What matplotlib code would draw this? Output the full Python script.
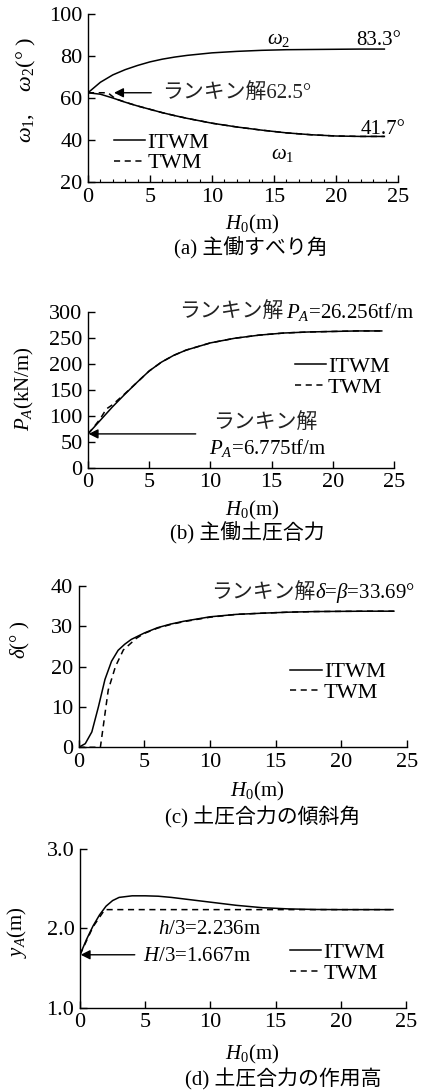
import matplotlib
matplotlib.use("Agg")
import matplotlib.pyplot as plt
from matplotlib.ticker import MultipleLocator, FormatStrFormatter

plt.rcParams['font.family'] = ['Liberation Serif', 'Noto Sans CJK JP']
plt.rcParams['mathtext.fontset'] = 'custom'
plt.rcParams['mathtext.rm'] = 'Liberation Serif'
plt.rcParams['mathtext.it'] = 'Liberation Serif:italic'
plt.rcParams['font.size'] = 15

# --- data ---
# (a) slip angles
h_a = [0, 1, 2, 3, 4, 5, 6, 7, 8, 10, 12, 14, 16, 18, 20, 22, 23.9]
omega2_itwm = [62.5, 67.5, 71.0, 73.5, 75.5, 77.2, 78.5, 79.5, 80.3, 81.5, 82.2, 82.7, 83.0, 83.1, 83.2, 83.3, 83.3]
omega1_itwm = [62.5, 61.8, 60.0, 58.0, 56.2, 54.6, 53.0, 51.6, 50.3, 48.0, 46.2, 44.7, 43.4, 42.5, 41.9, 41.7, 41.7]
h_a_twm = [0, 1.6, 2.2, 3, 4, 5, 6, 7, 8, 10, 12, 14, 16, 18, 20, 22, 23.9]
omega1_twm = [62.5, 62.5, 59.7, 58.0, 56.2, 54.6, 53.0, 51.6, 50.3, 48.0, 46.2, 44.7, 43.4, 42.5, 41.9, 41.7, 41.7]

# (b) active thrust
h_b = [0, 0.5, 1, 1.5, 2, 3, 4, 5, 6, 7, 8, 10, 12, 14, 16, 18, 20, 22, 24]
pa_itwm = [65, 78, 91, 104, 117, 141, 164, 186, 203, 216, 226, 240, 249, 255, 259, 261, 262, 263, 263]
pa_twm = [65, 79, 94, 113, 121, 142, 164, 186, 203, 216, 226, 240, 249, 255, 259, 261, 262, 263, 263]

# (c) inclination of thrust
h_c = [0, 0.5, 1, 1.5, 2, 2.5, 3, 3.5, 4, 5, 6, 7, 8, 10, 12, 14, 16, 18, 20, 22, 24]
delta_itwm = [0, 0.9, 3.8, 10.0, 16.8, 21.3, 24.0, 25.5, 26.7, 28.3, 29.6, 30.5, 31.2, 32.3, 32.9, 33.2, 33.45, 33.6, 33.65, 33.69, 33.69]
h_c_twm = [0, 1.65, 1.9, 2.25, 2.8, 3.4, 4.4, 5, 6, 7, 8, 10, 12, 14, 16, 18, 20, 22, 24]
delta_twm = [0, 0, 5.9, 14.2, 20.0, 24.1, 27.0, 28.2, 29.5, 30.4, 31.1, 32.2, 32.9, 33.2, 33.45, 33.6, 33.65, 33.69, 33.69]

# (d) height of application
h_d = [0, 0.5, 1, 1.5, 2, 2.5, 3, 4, 5, 6, 7, 8, 10, 12, 14, 16, 18, 20, 22, 24]
ya_itwm = [1.667, 1.86, 2.03, 2.17, 2.28, 2.35, 2.39, 2.41, 2.41, 2.405, 2.39, 2.37, 2.33, 2.29, 2.26, 2.245, 2.238, 2.236, 2.236, 2.236]
h_d_twm = [0, 1.0, 1.9, 24]
ya_twm = [1.667, 2.02, 2.236, 2.236]

W, H = 425, 1092
fig = plt.figure(figsize=(W / 100, H / 100), dpi=100)

TICK_FS = 16
TEXT_FS = 15


def px(x, y):
    return x / W, 1 - y / H


def make_axes(left, top, right, bottom):
    ax = fig.add_axes([left / W, 1 - bottom / H, (right - left) / W, (bottom - top) / H])
    for s in ['top', 'right']:
        ax.spines[s].set_visible(False)
    for s in ['left', 'bottom']:
        ax.spines[s].set_linewidth(1.0)
    ax.tick_params(direction='in', length=5, width=1.0, labelsize=TICK_FS, pad=4)
    ax.set_xlim(0, 25)
    ax.xaxis.set_major_locator(MultipleLocator(5))
    return ax


solid = dict(color='black', lw=1.1, ls='-')
dashed = dict(color='black', lw=1.1, ls=(0, (4, 3)))
arrow = dict(arrowstyle='-|>', color='black', lw=1.0, mutation_scale=14, shrinkA=0, shrinkB=0)


def legend(ax, x, y):
    ax.legend(loc='center left', bbox_to_anchor=(x, y), frameon=False, fontsize=16,
              handlelength=1.4, handletextpad=0.1, labelspacing=0.0, borderpad=0, borderaxespad=0)


# ---------- (a) ----------
ax = make_axes(88, 14, 398, 182)
ax.set_ylim(20, 100)
ax.yaxis.set_major_locator(MultipleLocator(20))
ax.xaxis.set_minor_locator(MultipleLocator(1))
ax.tick_params(which='minor', direction='in', length=2, width=0.8)
ax.plot(h_a, omega2_itwm, **solid)
ax.plot(h_a, omega1_itwm, label='ITWM', **solid)
ax.plot(h_a_twm, omega1_twm, label='TWM', **dashed)
ax.annotate('', xy=(2.1, 62.5), xytext=(5.1, 62.5), arrowprops=arrow)
ax.text(6.0, 62.5, 'ランキン解62.5°', ha='left', va='center', fontsize=TEXT_FS, color='#222222')
ax.text(15.4, 88.0, r'$\omega_2$', ha='center', va='center', fontsize=TEXT_FS)
ax.text(21.6, 87.5, '83.3°', ha='left', va='center', fontsize=TEXT_FS)
ax.text(22.0, 45.0, '41.7°', ha='left', va='center', fontsize=TEXT_FS)
ax.text(15.7, 33.0, r'$\omega_1$', ha='center', va='center', fontsize=TEXT_FS)
legend(ax, 0.085, 0.173)
fig.text(*px(26, 90), r'$\omega_1$,    $\omega_2$(° )', rotation=90, ha='center', va='center', fontsize=16)
fig.text(*px(252, 224), r'$H_0$(m)', ha='center', va='center', fontsize=TEXT_FS)
fig.text(*px(251, 248), '(a) 主働すべり角', ha='center', va='center', fontsize=TEXT_FS)

# ---------- (b) ----------
ax = make_axes(88, 311.7, 394, 467.7)
ax.set_ylim(0, 300)
ax.yaxis.set_major_locator(MultipleLocator(50))
ax.plot(h_b, pa_itwm, label='ITWM', **solid)
ax.plot(h_b, pa_twm, label='TWM', **dashed)
ax.annotate('', xy=(0.05, 65), xytext=(8.8, 65), arrowprops=arrow)
ax.text(10.2, 86, 'ランキン解', ha='left', va='center', fontsize=TEXT_FS, color='#222222')
ax.text(9.9, 38, r'$P_A$=6.775tf/m', ha='left', va='center', fontsize=TEXT_FS)
ax.text(15.95, 300, 'ランキン解', ha='right', va='center', fontsize=TEXT_FS, color='#222222')
ax.text(16.2, 300, r'$P_A$=26.256tf/m', ha='left', va='center', fontsize=TEXT_FS)
legend(ax, 0.675, 0.58)
fig.text(*px(24, 389), r'$P_A$(kN/m)', rotation=90, ha='center', va='center', fontsize=TEXT_FS)
fig.text(*px(252, 510), r'$H_0$(m)', ha='center', va='center', fontsize=TEXT_FS)
fig.text(*px(247, 533), '(b) 主働土圧合力', ha='center', va='center', fontsize=TEXT_FS)

# ---------- (c) ----------
ax = make_axes(78.7, 585.7, 407, 747.3)
ax.set_ylim(0, 40)
ax.yaxis.set_major_locator(MultipleLocator(10))
ax.plot(h_c, delta_itwm, label='ITWM', **solid)
ax.plot(h_c_twm, delta_twm, label='TWM', **dashed)
ax.text(18.0, 38.2, 'ランキン解', ha='right', va='center', fontsize=TEXT_FS, color='#222222')
ax.text(18.0, 38.2, r'$\delta$=$\beta$=33.69°', ha='left', va='center', fontsize=TEXT_FS)
legend(ax, 0.645, 0.402)
fig.text(*px(20, 640), r'$\delta$(° )', rotation=90, ha='center', va='center', fontsize=TEXT_FS)
fig.text(*px(257, 791), r'$H_0$(m)', ha='center', va='center', fontsize=TEXT_FS)
fig.text(*px(263, 817), '(c) 土圧合力の傾斜角', ha='center', va='center', fontsize=TEXT_FS)

# ---------- (d) ----------
ax = make_axes(80, 849, 406, 1007.7)
ax.set_ylim(1.0, 3.0)
ax.yaxis.set_major_locator(MultipleLocator(1.0))
ax.yaxis.set_major_formatter(FormatStrFormatter('%.1f'))
ax.plot(h_d, ya_itwm, label='ITWM', **solid)
ax.plot(h_d_twm, ya_twm, label='TWM', **dashed)
ax.annotate('', xy=(0.05, 1.667), xytext=(4.2, 1.667), arrowprops=arrow)
ax.text(6.0, 1.98, r'$h$/3=2.236m', ha='left', va='center', fontsize=TEXT_FS)
ax.text(4.8, 1.64, r'$H$/3=1.667m', ha='left', va='center', fontsize=TEXT_FS)
legend(ax, 0.645, 0.28)
fig.text(*px(17, 932), r'$y_A$(m)', rotation=90, ha='center', va='center', fontsize=TEXT_FS)
fig.text(*px(252, 1054), r'$H_0$(m)', ha='center', va='center', fontsize=TEXT_FS)
fig.text(*px(283, 1079), '(d) 土圧合力の作用高', ha='center', va='center', fontsize=TEXT_FS)

fig.savefig('out.png', dpi=100)
